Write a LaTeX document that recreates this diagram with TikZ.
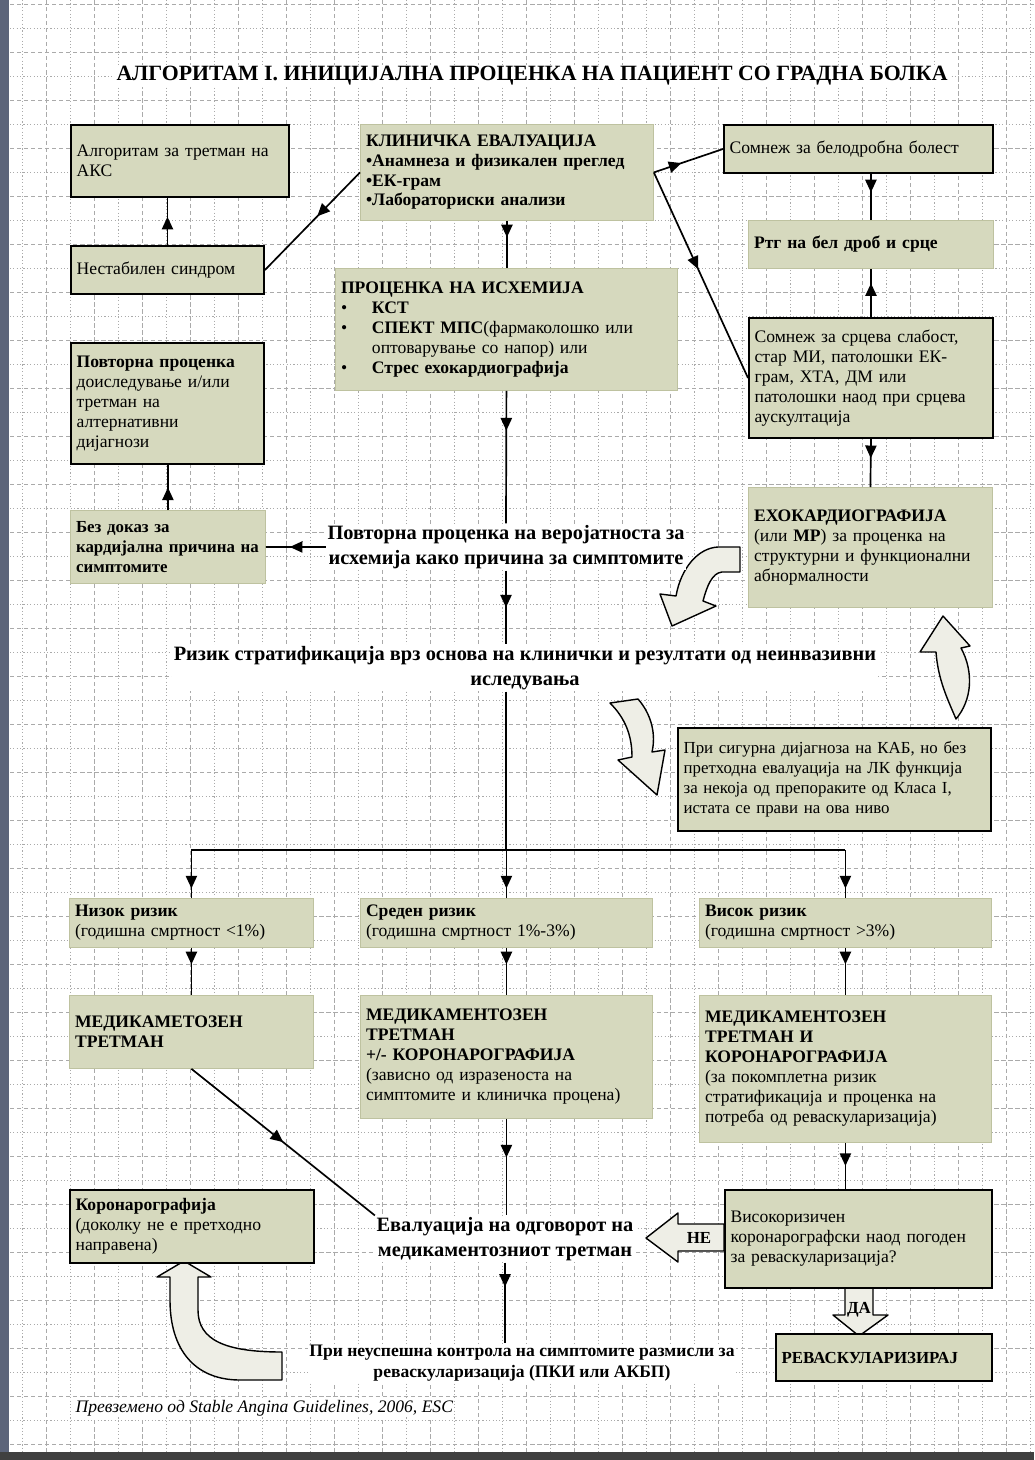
\documentclass[tikz,border=0pt]{standalone}
\usepackage{fontspec}
\setmainfont{Liberation Serif}
\usetikzlibrary{arrows.meta,positioning,decorations.markings}

\definecolor{boxfill}{RGB}{214,217,190}
\definecolor{boxline}{RGB}{190,194,160}
\definecolor{gridcol}{RGB}{170,170,170}
\definecolor{arrfill}{RGB}{238,238,230}
\definecolor{framecol}{RGB}{92,100,122}

\newcommand{\bitem}{\makebox[22pt][l]{\textbullet}}

\begin{document}
\begin{tikzpicture}[
    x=0.025cm, y=-0.025cm,
    sz/.code 2 args={%
        \pgfmathsetlengthmacro\boxw{#1*0.025cm}%
        \pgfmathsetlengthmacro\boxh{#2*0.025cm}%
        \pgfmathsetlengthmacro\boxt{#1*0.025cm-8pt}%
        \pgfkeysalso{minimum width=\boxw, minimum height=\boxh, text width=\boxt}},
    box/.style={rectangle, fill=boxfill, draw=boxline, line width=0.6pt, anchor=north west,
        align=left, inner xsep=4pt, inner ysep=2pt, font=\fontsize{12.5}{14.2}\selectfont},
    thickbox/.style={box, draw=black, line width=1.4pt},
    freetext/.style={fill=white, align=center, inner sep=1pt, font=\bfseries\fontsize{14.5}{18}\selectfont},
    griddash/.style={gridcol, line width=0.35pt, dash pattern=on 3pt off 2pt},
    griddot/.style={gridcol, line width=0.35pt, dash pattern=on 0.8pt off 1.6pt},
    conn/.style={line width=1.2pt},
    midarr/.style={conn, decoration={markings,
        mark=at position #1 with {\arrow{Triangle[length=9pt,width=8pt]}}}, postaction={decorate}},
    midarr/.default=0.5,
    blockarr/.style={fill=arrfill, draw=black, line width=1pt, line join=round}
]
    % Page and grid
    \useasboundingbox (0,0) rectangle (1034,1460);
    \foreach \y [count=\i] in {4,28,...,1444} {
        \ifodd\i \draw[griddash] (10,\y) -- (1034,\y); \else \draw[griddot] (10,\y) -- (1034,\y); \fi
    }
    \foreach \x [count=\i] in {22,46,...,1030} {
        \ifodd\i \draw[griddot] (\x,0) -- (\x,1452); \else \draw[griddash] (\x,0) -- (\x,1452); \fi
    }
    \fill[framecol] (0,0) rectangle (9,1460);
    \fill[black!75] (0,1452) rectangle (1034,1460);

    % Title
    \node[freetext, font=\bfseries\fontsize{15.5}{17}\selectfont] (title) at (532,76)
        {АЛГОРИТАМ I. ИНИЦИЈАЛНА ПРОЦЕНКА НА ПАЦИЕНТ СО ГРАДНА БОЛКА};

    % Block arrows
    \draw[blockarr] (740,547) -- (718,547) .. controls (698,548) and (681,568) .. (676,596)
        -- (660,594) -- (672,626) -- (716,606) -- (703,601)
        .. controls (707,586) and (712,573) .. (722,572) -- (740,572) -- cycle;
    \draw[blockarr] (943,616) -- (970,646) -- (961,648) .. controls (974,672) and (972,700) .. (956,719)
        .. controls (948,700) and (938,680) .. (936,652) -- (920,652) -- cycle;
    \draw[blockarr] (610,703) -- (638,699) .. controls (652,715) and (656,735) .. (652,752)
        -- (665,750) -- (657,795) -- (618,760) -- (632,757)
        .. controls (632,735) and (625,718) .. (610,703) -- cycle;
    \draw[blockarr] (198,1277) -- (198,1310) .. controls (198,1340) and (225,1352) .. (282,1352)
        -- (282,1380) -- (240,1380) .. controls (195,1380) and (170,1350) .. (170,1300)
        -- (170,1277) -- (157,1277) -- (184,1261) -- (211,1277) -- cycle;
    \draw[blockarr] (724,1224) -- (678,1224) -- (678,1213) -- (646,1238) -- (678,1262)
        -- (678,1251) -- (724,1251) -- cycle;
    \draw[blockarr] (845,1287) -- (845,1315) -- (833,1315) -- (859,1336) -- (888,1315)
        -- (873,1315) -- (873,1287) -- cycle;
    \node[font=\bfseries\fontsize{12}{14}\selectfont] (ne) at (699,1238) {НЕ};
    \node[font=\bfseries\fontsize{12}{14}\selectfont] (da) at (859,1310) {ДА};

    % Boxes
    \node[thickbox, sz={218}{72}] (aks) at (70,124) {Алгоритам за третман на\\АКС};
    \node[thickbox, sz={193}{48}] (nestab) at (70,245) {Нестабилен синдром};
    \node[box, sz={293}{96}, font=\bfseries\fontsize{12.5}{14}\selectfont] (klin) at (360,124)
        {КЛИНИЧКА ЕВАЛУАЦИЈА\\•Анамнеза и физикален преглед\\•ЕК-грам\\•Лабораториски анализи};
    \node[thickbox, sz={269}{48}] (belod) at (723,124) {Сомнеж за белодробна болест};
    \node[box, sz={245}{48}, font=\bfseries\fontsize{12.5}{14}\selectfont] (rtg) at (748,220) {Ртг на бел дроб и срце};
    \node[box, sz={342}{122}] (isch) at (335,268)
        {\textbf{ПРОЦЕНКА НА ИСХЕМИЈА}\\
        \bitem\textbf{КСТ}\\
        \bitem\textbf{СПЕКТ МПС}(фармаколошко или\\
        \hspace*{22pt}оптоварување со напор) или\\
        \bitem\textbf{Стрес ехокардиографија}};
    \node[thickbox, sz={244}{120}] (srcev) at (748,317)
        {Сомнеж за срцева слабост,\\стар МИ, патолошки ЕК-\\грам, ХТА, ДМ или\\патолошки наод при срцева\\аускултација};
    \node[thickbox, sz={193}{121}] (povt) at (70,342)
        {\textbf{Повторна проценка}\\доиследување и/или\\третман на\\алтернативни\\дијагнози};
    \node[box, sz={195}{73}, font=\bfseries\fontsize{12}{14.2}\selectfont] (bezdok) at (70,510)
        {Без доказ за\\кардијална причина на\\симптомите};
    \node[box, sz={244}{120}] (eho) at (748,487)
        {\textbf{ЕХОКАРДИОГРАФИЈА}\\(или \textbf{МР}) за проценка на\\структурни и функционални\\абнормалности};
    \node[thickbox, sz={313}{103}, font=\fontsize{12}{14.2}\selectfont] (kab) at (677,727)
        {При сигурна дијагноза на КАБ, но без\\претходна евалуација на ЛК функција\\за некоја од препораките од Класа I,\\истата се прави на ова ниво};

    % Risk groups
    \node[box, sz={244}{49}] (nizok) at (69,898) {\textbf{Низок ризик}\\(годишна смртност <1\%)};
    \node[box, sz={292}{49}] (sreden) at (360,898) {\textbf{Среден ризик}\\(годишна смртност 1\%-3\%)};
    \node[box, sz={292}{49}] (visok) at (699,898) {\textbf{Висок ризик}\\(годишна смртност >3\%)};
    \node[box, sz={244}{73}, font=\bfseries\fontsize{12.5}{14.2}\selectfont] (medlow) at (69,995)
        {МЕДИКАМЕТОЗЕН\\ТРЕТМАН};
    \node[box, sz={292}{123}] (medmid) at (360,995)
        {\textbf{МЕДИКАМЕНТОЗЕН}\\\textbf{ТРЕТМАН}\\\textbf{+/- КОРОНАРОГРАФИЈА}\\(зависно од изразеноста на\\симптомите и клиничка процена)};
    \node[box, sz={292}{147}] (medhigh) at (699,995)
        {\textbf{МЕДИКАМЕНТОЗЕН}\\\textbf{ТРЕТМАН И}\\\textbf{КОРОНАРОГРАФИЈА}\\(за покомплетна ризик\\стратификација и проценка на\\потреба од реваскуларизација)};
    \node[thickbox, sz={244}{73}] (koron) at (69,1189)
        {\textbf{Коронарографија}\\(доколку не е претходно\\направена)};
    \node[thickbox, sz={267}{98}] (visokriz) at (724,1189)
        {Високоризичен\\коронарографски наод погоден\\за реваскуларизација?};
    \node[thickbox, sz={216}{47}, font=\bfseries\fontsize{12}{14}\selectfont] (revask) at (775,1333)
        {РЕВАСКУЛАРИЗИРАЈ};

    % Free texts
    \node[freetext] (povtver) at (506,547)
        {Повторна проценка на веројатноста за\\исхемија како причина за симптомите};
    \node[freetext] (rizik) at (525,668)
        {Ризик стратификација врз основа на клинички и резултати од неинвазивни\\иследувања};
    \node[freetext] (evalu) at (505,1239) {Евалуација на одговорот на\\медикаментозниот третман};
    \node[freetext, font=\bfseries\fontsize{12.5}{14.5}\selectfont] (neusp) at (522,1363)
        {При неуспешна контрола на симптомите размисли за\\реваскуларизација (ПКИ или АКБП)};
    \node[freetext, anchor=west, font=\itshape\fontsize{12.5}{14}\selectfont] (source) at (74,1408)
        {Превземено од Stable Angina Guidelines, 2006, ESC};
    \coordinate (bar) at (506,850);

    % Connectors
    \draw[midarr=0.6] (nestab.north) -- (nestab.north |- aks.south);
    \draw[midarr=0.45] (klin.west) -- (nestab.east);
    \draw[midarr=0.4] (klin.east) -- (belod.west);
    \draw[midarr=0.4] (rtg.north |- belod.south) -- (rtg.north);
    \draw[midarr=0.7] (srcev.north) -- (srcev.north |- rtg.south);
    \draw[midarr=0.47] (klin.east) -- (srcev.west);
    \draw[midarr=0.35] (klin.south) -- (klin.south |- isch.north);
    \draw[midarr=0.3] (isch.south) -- (povtver.north);
    \draw[midarr=0.6] (povtver.west) -- (bezdok.east);
    \draw[midarr=0.5] (bezdok.north) -- (bezdok.north |- povt.south);
    \draw[midarr=0.4] (srcev.south) -- (eho.north);
    \draw[midarr=0.5] (povtver.south) -- (povtver.south |- rizik.north);
    \draw[conn] (povtver.south |- rizik.south) -- (bar);
    \draw[conn] (nizok.north |- bar) -- (visok.north |- bar);
    \foreach \n in {nizok,sreden,visok}
        \draw[midarr=0.8] (\n.north |- bar) -- (\n.north);
    \foreach \n/\m in {nizok/medlow,sreden/medmid,visok/medhigh}
        \draw[midarr=0.35] (\n.south) -- (\m.north);
    \draw[midarr=0.5] (medlow.south) -- (evalu.north west);
    \draw[midarr=0.4] (medmid.south) -- (medmid.south |- evalu.north);
    \draw[midarr=0.5] (medhigh.south) -- (medhigh.south |- visokriz.north);
    \draw[midarr=0.3] (evalu.south) -- (evalu.south |- neusp.north);
\end{tikzpicture}
\end{document}
